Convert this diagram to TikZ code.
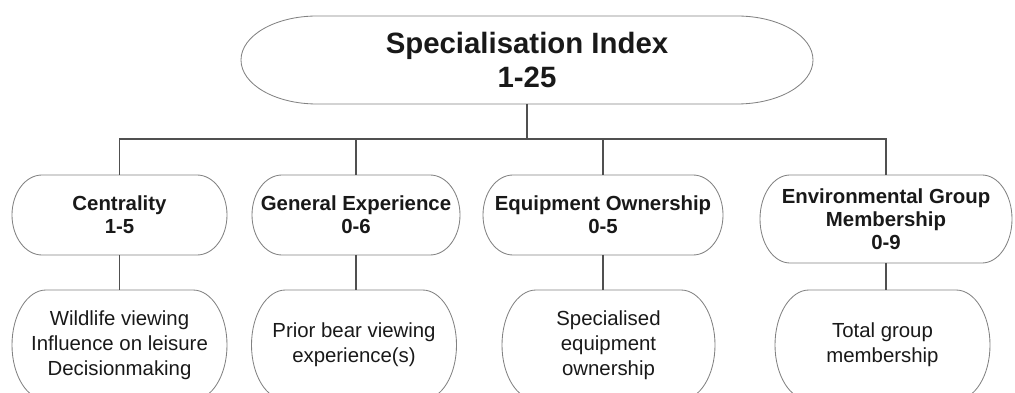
\documentclass[tikz,border=0pt]{standalone}
\usepackage{fontspec}
\setmainfont{Liberation Sans}
\usetikzlibrary{positioning, calc}
\definecolor{cLine}{RGB}{80,80,80}
\definecolor{cEdge}{RGB}{130,130,130}
\definecolor{cText}{RGB}{25,25,25}
\tikzset{
	idxbox/.style ={rectangle, outer sep=0pt, minimum width=14.3cm, minimum height=2.2cm, align=center, text=cText, font=\bfseries\fontsize{20.9}{23.5}\selectfont},
	dimbox/.style ={rectangle, outer sep=0pt, minimum height=2cm, align=center, text=cText, font=\bfseries\fontsize{14.5}{16.4}\selectfont},
	itembox/.style={rectangle, outer sep=0pt, minimum height=2.75cm, align=center, text=cText, font=\fontsize{14.5}{17.8}\selectfont},
	pill/.style   ={draw=cEdge, line width=0.6pt},
	conn/.style   ={draw=cLine, line width=0.8pt},
}
% outline with elliptic ends: node, x radius, y radius
\newcommand{\pillaround}[3]{%
	\draw[pill] ([xshift=#2]#1.north west) -- ([xshift=-#2]#1.north east)
		arc[start angle=90, end angle=-90, x radius=#2, y radius=#3]
		-- ([xshift=#2]#1.south west)
		arc[start angle=270, end angle=90, x radius=#2, y radius=#3] -- cycle;}

\begin{document}
\begin{tikzpicture}
	\useasboundingbox (0,0) rectangle (25.375,-9.825);
	% index
	\node[idxbox] (idx) at (13.175,-1.5) {Specialisation Index\\1-25};
	\coordinate (bar) at (0,-3.475);
	% dimensions
	\node[dimbox, minimum width=5.375cm] (cent)  at (2.9875,-5.375) {Centrality\\1-5};
	\node[dimbox, minimum width=5.2cm]   (gen)   at (8.9,-5.375)    {General Experience\\0-6};
	\node[dimbox, minimum width=6cm]     (equip) at (15.075,-5.375) {Equipment Ownership\\0-5};
	\node[dimbox, minimum width=6.3cm, minimum height=2.2cm] (envm) at (22.15,-5.475) {Environmental Group\\Membership\\0-9};
	% items
	\node[itembox, minimum width=5.375cm] (cent3)  at (2.9875,-8.625)  {Wildlife viewing\\Influence on leisure\\Decisionmaking};
	\node[itembox, minimum width=5.125cm] (gen3)   at (8.85,-8.625)    {Prior bear viewing\\experience(s)};
	\node[itembox, minimum width=5.325cm] (equip3) at (15.2125,-8.625) {Specialised\\equipment\\ownership};
	\node[itembox, minimum width=5.375cm] (envm3)  at (22.0625,-8.625) {Total group\\membership};

	\pillaround{idx}{1.9cm}{1.1cm}
	\foreach \n in {cent, gen, equip} {\pillaround{\n}{0.75cm}{1cm}}
	\pillaround{envm}{0.75cm}{1.1cm}
	\foreach \n in {cent3, gen3, equip3, envm3} {\pillaround{\n}{0.85cm}{1.375cm}}

	\draw[conn] (idx.south) -- (idx.south |- bar);
	\draw[conn] (cent.north) |- (envm.north |- bar) -- (envm.north);
	\foreach \n in {gen, equip} \draw[conn] (\n.north) -- (\n.north |- bar);
	\foreach \n in {cent, gen, equip, envm} \draw[conn] (\n.south) -- (\n.south |- \n3.north);
\end{tikzpicture}
\end{document}
